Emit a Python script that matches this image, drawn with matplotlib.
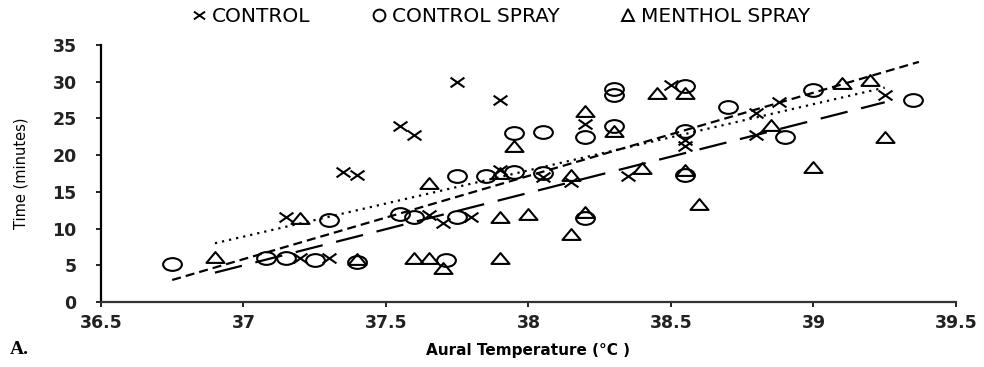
import numpy as np
import matplotlib
matplotlib.use("Agg")
import matplotlib.pyplot as plt
from matplotlib.path import Path
from matplotlib.transforms import Affine2D
from matplotlib.lines import Line2D

### DATA ###
# Aural temperature (deg C) and time (minutes) for each group
control_x = [37.15, 37.2, 37.3, 37.35, 37.4, 37.55, 37.6, 37.65, 37.7, 37.75, 37.8,
             37.9, 37.9, 38.05, 38.15, 38.2, 38.35, 38.5, 38.55, 38.55, 38.8, 38.8,
             38.88, 39.25]
control_y = [11.6, 6.0, 6.0, 17.7, 17.3, 24.0, 22.7, 11.8, 10.8, 30.0, 11.6,
             27.5, 18.0, 17.0, 16.3, 24.2, 17.2, 29.6, 22.0, 21.2, 25.7, 22.7,
             27.2, 28.2]

spray_x = [36.75, 37.08, 37.15, 37.25, 37.3, 37.4, 37.55, 37.6, 37.71, 37.75, 37.75,
           37.85, 37.95, 37.95, 38.05, 38.05, 38.2, 38.2, 38.3, 38.3, 38.3, 38.55,
           38.55, 38.55, 38.7, 38.9, 39.0, 39.35]
spray_y = [5.2, 6.0, 6.0, 5.7, 11.2, 5.5, 12.0, 11.6, 5.7, 11.6, 17.1,
           17.1, 23.0, 17.7, 23.2, 17.5, 22.5, 11.4, 29.0, 28.2, 24.0, 29.4,
           23.3, 17.3, 26.6, 22.5, 28.9, 27.5]

menthol_x = [36.9, 37.2, 37.4, 37.6, 37.65, 37.65, 37.7, 37.9, 37.9, 37.9, 37.95,
             38.0, 38.15, 38.15, 38.2, 38.2, 38.3, 38.4, 38.45, 38.55, 38.55, 38.6,
             38.85, 39.0, 39.1, 39.2, 39.25]
menthol_y = [6.1, 11.5, 5.9, 5.95, 5.95, 16.2, 4.6, 17.5, 11.6, 5.95, 21.2,
             12.0, 17.3, 9.3, 26.0, 12.2, 23.3, 18.2, 28.5, 28.5, 18.0, 13.4,
             24.1, 18.4, 29.8, 30.2, 22.5]

# trend line end points (x, y) for each group
control_trend_x = [36.9, 39.25]
control_trend_y = [8.0, 29.2]
spray_trend_x = [36.75, 39.37]
spray_trend_y = [3.0, 32.7]
menthol_trend_x = [36.9, 39.25]
menthol_trend_y = [4.0, 27.2]

labels = ["CONTROL", "CONTROL SPRAY", "MENTHOL SPRAY"]
x_ticks = [36.5, 37, 37.5, 38, 38.5, 39, 39.5]
x_ticklabels = ["36.5", "37", "37.5", "38", "38.5", "39", "39.5"]
y_ticks = [0, 5, 10, 15, 20, 25, 30, 35]

### MARKERS (the original picture is stretched sideways) ###
cross = Path([(-1, -0.7), (1, 0.7), (-1, 0.7), (1, -0.7)],
             [Path.MOVETO, Path.LINETO, Path.MOVETO, Path.LINETO])
ellipse = Path.unit_circle().transformed(Affine2D().scale(1, 0.68))
triangle = Path([(-1, -0.6), (1, -0.6), (0, 0.6), (-1, -0.6)],
                [Path.MOVETO, Path.LINETO, Path.LINETO, Path.CLOSEPOLY])

plt.rcParams['lines.scale_dashes'] = False
fig = plt.figure(figsize=(9.84, 3.67), dpi=100, facecolor='w')
ax = fig.add_axes([0.1026, 0.1771, 0.8689, 0.7003])

ax.plot(control_x, control_y, linestyle='none', marker=cross, markersize=10,
        markeredgewidth=1.5, color='black', markerfacecolor='none')
ax.plot(spray_x, spray_y, linestyle='none', marker=ellipse, markersize=13.5,
        markeredgewidth=1.5, markeredgecolor='black', markerfacecolor='none')
ax.plot(menthol_x, menthol_y, linestyle='none', marker=triangle, markersize=13,
        markeredgewidth=1.5, markeredgecolor='black', markerfacecolor='none')

ax.plot(control_trend_x, control_trend_y, color='black', linewidth=1.6,
        linestyle=(0, (1.6, 3.6)))
ax.plot(spray_trend_x, spray_trend_y, color='black', linewidth=1.6,
        linestyle=(0, (6.5, 3.6)))
ax.plot(menthol_trend_x, menthol_trend_y, color='black', linewidth=1.6,
        linestyle=(0, (20, 10)))

ax.set_xlim(36.5, 39.5)
ax.set_ylim(0, 35)
ax.spines['top'].set_visible(False)
ax.spines['right'].set_visible(False)
ax.spines['left'].set_linewidth(1.6)
ax.spines['bottom'].set_linewidth(1.6)
ax.spines['bottom'].set_color('#333333')
ax.set_xticks(x_ticks)
ax.set_xticklabels(x_ticklabels)
ax.set_yticks(y_ticks)
ax.tick_params(axis='both', direction='out', length=3.5, width=1.2,
               labelsize=12.5)
ax.tick_params(axis='x', pad=5)
ax.tick_params(axis='y', pad=14)
for lab in ax.get_xticklabels() + ax.get_yticklabels():
    lab.set_fontweight('bold')
    lab.set_color('#222222')

ax.set_ylabel('Time (minutes)', fontsize=10.5, labelpad=17)
ax.set_xlabel('Aural Temperature (°C )', fontsize=11, fontweight='bold', labelpad=8)
fig.text(0.010, 0.035, 'A.', fontsize=14, fontweight='bold',
         family='Liberation Serif')

# legend, markers only
handles = [
    Line2D([], [], linestyle='none', marker=cross, markersize=8,
           markeredgewidth=1.4, color='black'),
    Line2D([], [], linestyle='none', marker='o', markersize=8.5,
           markeredgewidth=1.4, markeredgecolor='black', markerfacecolor='none'),
    Line2D([], [], linestyle='none', marker='^', markersize=9,
           markeredgewidth=1.4, markeredgecolor='black', markerfacecolor='none'),
]
fig.legend(handles, labels, loc='center', bbox_to_anchor=(0.509, 0.955), ncol=3,
           frameon=False, fontsize=14.5, handlelength=0.8, handletextpad=0.25,
           columnspacing=3.0)

plt.savefig('out.png', dpi=100)
